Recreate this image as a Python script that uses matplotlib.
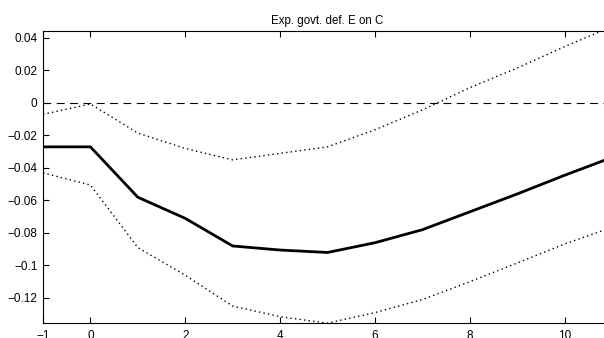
import matplotlib
matplotlib.use("Agg")
import matplotlib.pyplot as plt

plt.rcParams['font.family'] = ['Liberation Sans', 'DejaVu Sans']

horizon = [-1, 0, 1, 2, 3, 4, 5, 6, 7, 8, 9, 10, 11]
median = [-0.027, -0.027, -0.058, -0.071, -0.088, -0.0905, -0.092, -0.086,
          -0.078, -0.067, -0.056, -0.0445, -0.0335]
upper = [-0.007, -0.0006, -0.0185, -0.028, -0.035, -0.031, -0.027, -0.0165,
         -0.0043, 0.0094, 0.0215, 0.0347, 0.047]
lower = [-0.043, -0.0505, -0.089, -0.106, -0.125, -0.1315, -0.1355, -0.129,
         -0.121, -0.110, -0.0985, -0.0868, -0.0765]
title = "Exp. govt. def. E on C"
xticks = [-1, 0, 2, 4, 6, 8, 10]
yticks = [-0.12, -0.1, -0.08, -0.06, -0.04, -0.02, 0, 0.02, 0.04]
yticklabels = ["\u22120.12", "\u22120.1", "\u22120.08", "\u22120.06", "\u22120.04",
               "\u22120.02", "0", "0.02", "0.04"]
xticklabels = ["\u22121", "0", "2", "4", "6", "8", "10"]

fig = plt.figure(figsize=(6.04, 3.38), dpi=100)
ax = fig.add_axes([43 / 604, 15 / 338, 569 / 604, 292 / 338])

ax.axhline(0, color='black', lw=0.8, linestyle=(0, (7, 5)))
ax.plot(horizon, upper, color='black', lw=1.0, linestyle=(0, (1, 2.3)))
ax.plot(horizon, lower, color='black', lw=1.0, linestyle=(0, (1, 2.3)))
ax.plot(horizon, median, color='black', lw=2.0, solid_joinstyle='miter')

ax.set_xlim(-1, 11)
ax.set_ylim(-0.1354, 0.0443)
ax.set_xticks(xticks)
ax.set_xticklabels(xticklabels)
ax.set_yticks(yticks)
ax.set_yticklabels(yticklabels)
ax.tick_params(direction='in', length=4.5, width=0.8, labelsize=8.5,
               top=True, right=True)
ax.tick_params(axis='x', pad=5)
ax.tick_params(axis='y', pad=4)
for s in ax.spines.values():
    s.set_linewidth(0.8)
ax.set_title(title, fontsize=8.3, pad=5)

fig.savefig("out.png", dpi=100)
